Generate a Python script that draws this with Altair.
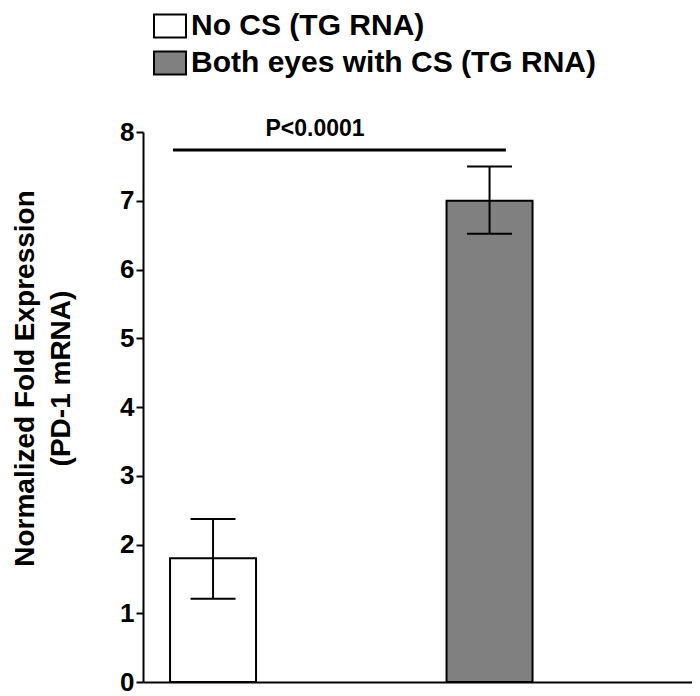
import altair as alt
import pandas as pd

groups = ["No CS (TG RNA)", "Both eyes with CS (TG RNA)"]
means = [1.80, 7.00]
err_low = [1.21, 6.52]
err_high = [2.37, 7.50]
fills = ["#ffffff", "#808080"]
y_ticks = [0, 1, 2, 3, 4, 5, 6, 7, 8]
sig_label = ["P<0.0001"]
sig_y = [7.74]
sig_text_y = [7.94]

df = pd.DataFrame({"group": groups, "mean": means, "lo": err_low, "hi": err_high})
sig = pd.DataFrame({"g1": [groups[0]], "g2": [groups[1]], "y": sig_y,
                    "ty": sig_text_y, "label": sig_label})

FONT = "Liberation Sans"

xscale = alt.Scale(domain=groups, paddingInner=0.689, paddingOuter=0.33725, align=0.145)
xaxis = alt.Axis(title=None, labels=False, ticks=False, domainColor="black",
                 domainWidth=2, grid=False)
yscale = alt.Scale(domain=[0, 8], nice=False)
yaxis = alt.Axis(values=y_ticks, title=["Normalized Fold Expression", "(PD-1 mRNA)"],
                 grid=False, domainColor="black", domainWidth=2, tickColor="black",
                 tickWidth=2, tickSize=7, labelFont=FONT, labelFontSize=26,
                 labelFontWeight="bold", labelColor="black", labelPadding=2,
                 titleFont=FONT, titleFontSize=28, titleFontWeight="bold",
                 titleColor="black", titleLineHeight=36, titleX=-104, titleY=246)

x = alt.X("group:N", scale=xscale, axis=xaxis, sort=groups)

bars = alt.Chart(df).mark_bar(stroke="black", strokeWidth=2, opacity=1).encode(
    x=x,
    y=alt.Y("mean:Q", scale=yscale, axis=yaxis),
    color=alt.Color("group:N", sort=groups,
                    scale=alt.Scale(domain=groups, range=fills),
                    legend=alt.Legend(orient="none", legendX=10, legendY=-123,
                                      title=None, padding=0, rowPadding=4,
                                      symbolType="M-1,-0.72L1,-0.72L1,0.72L-1,0.72Z",
                                      symbolSize=1024, symbolStrokeColor="black",
                                      symbolStrokeWidth=2, symbolOpacity=1,
                                      labelFont=FONT, labelFontSize=30,
                                      labelFontWeight="bold", labelColor="black",
                                      labelLimit=800, labelOffset=4)),
)

rule = alt.Chart(df).mark_rule(color="black", strokeWidth=2).encode(
    x=x,
    y=alt.Y("lo:Q", scale=yscale, axis=yaxis),
    y2="hi:Q",
)
cap_lo = alt.Chart(df).mark_tick(color="black", thickness=2, size=45, opacity=1).encode(
    x=x, y=alt.Y("lo:Q", scale=yscale, axis=yaxis))
cap_hi = alt.Chart(df).mark_tick(color="black", thickness=2, size=45, opacity=1).encode(
    x=x, y=alt.Y("hi:Q", scale=yscale, axis=yaxis))

sig_rule = alt.Chart(sig).mark_rule(color="black", strokeWidth=3).encode(
    x=alt.X("g1:N", scale=xscale, axis=xaxis, bandPosition=0.035),
    x2=alt.X2("g2:N", bandPosition=0.69),
    y=alt.Y("y:Q", scale=yscale, axis=yaxis),
)
sig_text = alt.Chart(sig).mark_text(font=FONT, fontSize=23, fontWeight="bold",
                                    baseline="alphabetic", align="center",
                                    dx=102, color="black").encode(
    x=alt.X("g1:N", scale=xscale, axis=xaxis, bandPosition=0.5),
    y=alt.Y("ty:Q", scale=yscale, axis=yaxis),
    text="label:N",
)

chart = alt.layer(bars, rule, cap_lo, cap_hi, sig_rule, sig_text).properties(
    width=549, height=550,
    background="white",
    autosize=alt.AutoSizeParams(type="none"),
    padding={"left": 135, "top": 124, "right": 0, "bottom": 14},
).configure_view(stroke=None)

chart.save("out.html", embed_options={"renderer": "svg", "actions": False})
